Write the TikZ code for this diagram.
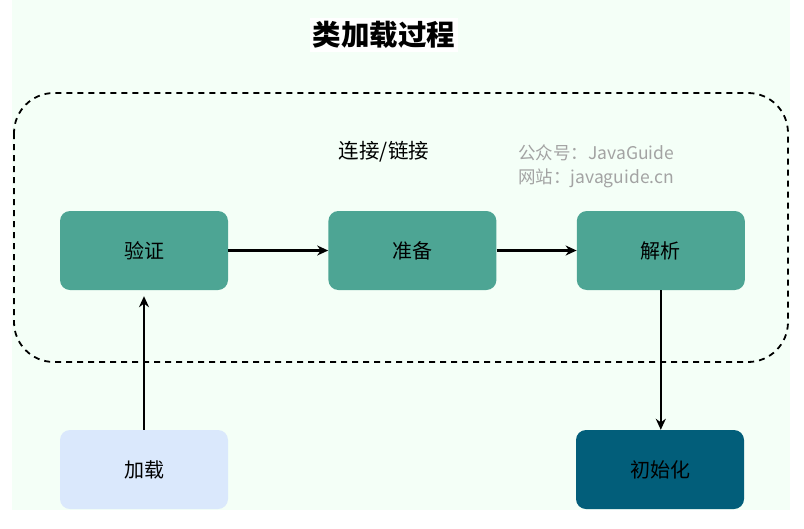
\documentclass[tikz,border=0pt]{standalone}
\usepackage{fontspec}
\setmainfont{Noto Sans CJK SC}
\usetikzlibrary{arrows.meta, positioning}

\definecolor{mintbg}{HTML}{F4FFF7}
\definecolor{stagegreen}{HTML}{4DA594}
\definecolor{loadblue}{HTML}{DAE8FC}
\definecolor{initblue}{HTML}{025E7A}
\definecolor{markgray}{HTML}{A3A3A3}

\begin{document}
\begin{tikzpicture}[
		x=1pt, y=-1pt,
		>={Stealth[length=11pt, width=10pt]},
		stage/.style={rounded corners=10pt, minimum width=168pt, minimum height=79pt,
			inner sep=0pt, font=\fontsize{20}{20}\selectfont, text=black},
		flow/.style={->, line width=2.2pt, black}
		]
		
		% --- 1. Canvas ---
		\useasboundingbox (0,0) rectangle (804,528);
		\fill[mintbg] (12,0) rectangle (790,510);
		
		% Title
		\node[fill=white, inner sep=3pt, font=\fontsize{28.5}{28.5}\selectfont\bfseries] (title) at (384,35) {类加载过程};
		
		% --- 2. The linking phase (dashed frame) ---
		\draw[line width=1.8pt, dash pattern=on 6pt off 5pt, rounded corners=40pt] (14,93) rectangle (788,362);
		\node[font=\fontsize{20.5}{20.5}\selectfont] (linking) at (384,152) {连接/链接};
		
		% watermark
		\node[anchor=west, text=markgray, font=\fontsize{17.5}{24}\selectfont, align=left, inner sep=0pt] (mark) at (518,166)
		{公众号：JavaGuide\\网站：javaguide.cn};
		
		% --- 3. Stages ---
		\node[stage, fill=stagegreen] (verify) at (144,250.5) {验证};
		\node[stage, fill=stagegreen, right=100pt of verify] (prepare) {准备};
		\node[stage, fill=stagegreen, right=80pt of prepare] (resolve) {解析};
		\node[stage, fill=loadblue] (load) at (144,469.5) {加载};
		\node[stage, fill=initblue] (init) at (660,469.5) {初始化};
		
		% --- 4. Connectors ---
		\draw[flow] (verify) -- (prepare);
		\draw[flow] (prepare) -- (resolve);
		\draw[flow] (load.north) -- ([yshift=-6pt]load.north |- verify.south);
		\draw[flow] (resolve.south) -- (resolve.south |- init.north);
		
	\end{tikzpicture}
\end{document}
